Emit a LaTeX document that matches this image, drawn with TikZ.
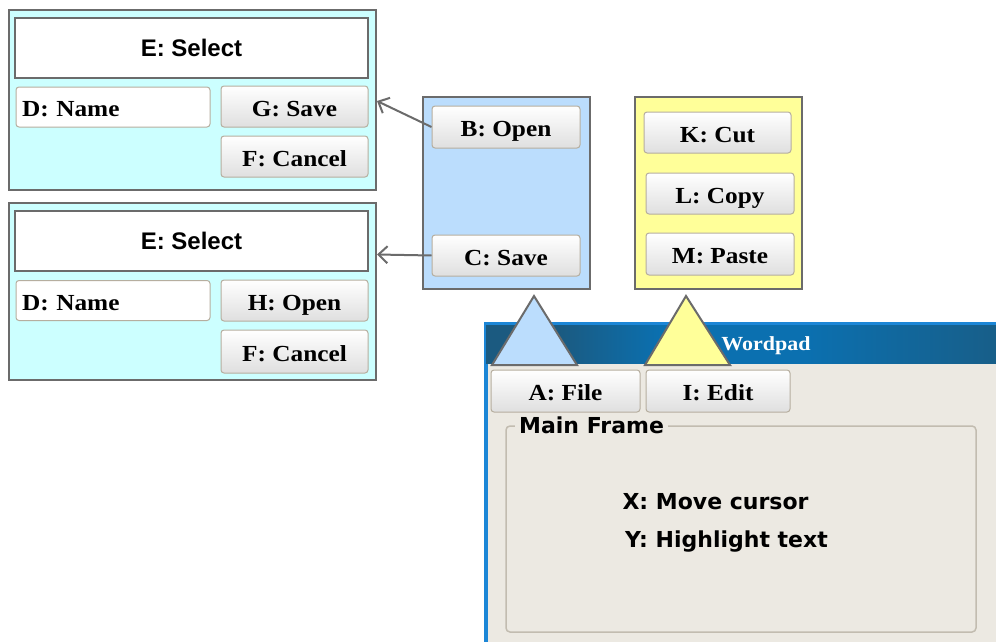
\documentclass[tikz,border=0pt]{standalone}
\usepackage{fontspec}
\setmainfont{Liberation Serif}
\newfontfamily\serifwide[FakeStretch=1.1]{Liberation Serif}
\newfontfamily\arialfont{Liberation Sans}
\newfontfamily\dejavufont{DejaVu Sans}
\usetikzlibrary{arrows.meta}

\definecolor{framegray}{HTML}{6B6B6B}
\definecolor{btnedge}{HTML}{B6AE9F}
\definecolor{btnlow}{HTML}{DFDFDF}
\definecolor{dlgcyan}{HTML}{CCFFFF}
\definecolor{menublue}{HTML}{BBDDFD}
\definecolor{menuyellow}{HTML}{FFFF99}
\definecolor{winbody}{HTML}{ECE9E2}
\definecolor{titledark}{HTML}{1B5A80}
\definecolor{titlemid}{HTML}{0B70B0}
\definecolor{titleright}{HTML}{185E88}
\definecolor{winedge}{HTML}{1C86D6}
\definecolor{groupedge}{HTML}{C2BCB0}

% title bar: dark at the ends, brighter towards the middle
% (the path is fitted to the 25bp--75bp band of the shading)
\pgfdeclarehorizontalshading{titlebar}{100bp}{%
  color(0bp)=(titledark); color(32bp)=(titledark); color(42bp)=(titlemid);
  color(56bp)=(titlemid); color(75bp)=(titleright); color(100bp)=(titleright)}

\tikzset{
  panel/.style={draw=framegray, line width=2pt, inner sep=0pt},
  dialog/.style={panel, fill=dlgcyan, minimum width=367pt},
  menu/.style={panel, minimum width=167pt, minimum height=192pt},
  selectbox/.style={panel, fill=white, minimum width=353pt, minimum height=60pt,
    font=\arialfont\bfseries\fontsize{24}{28}\selectfont},
  serifbold/.style={font=\serifwide\bfseries\fontsize{23}{27}\selectfont,
    text height=19pt, text depth=0pt},
  button/.style={serifbold, draw=btnedge, line width=1pt, rounded corners=3pt,
    top color=white, bottom color=btnlow, inner sep=0pt,
    minimum width=147pt, minimum height=41pt},
  field/.style={serifbold, draw=btnedge, line width=1pt, rounded corners=3pt,
    fill=white, inner xsep=6pt, inner ysep=0pt, text width=182pt, align=left,
    minimum height=40pt},
  link/.style={draw=framegray, line width=2pt,
    -{Straight Barb[length=9pt,width=17pt,line width=2pt]}},
  pointer/.style={draw=framegray, line width=2pt},
  frametext/.style={font=\dejavufont\bfseries\fontsize{22}{26}\selectfont},
}

\begin{document}
\begin{tikzpicture}[x=1pt,y=-1pt]
\useasboundingbox (0,0) rectangle (996,642);
\fill[white] (0,0) rectangle (996,642);

% Wordpad main window, running off the right and bottom edges
\begin{scope}
  \clip (0,0) rectangle (996,642);
  \fill[winedge] (484,322) rectangle (1000,650);
  \fill[winbody] (488,363) rectangle (1000,650);
  \shade[shading=titlebar] (486,325) rectangle (1000,363);
\end{scope}
\node[font=\serifwide\bfseries\fontsize{20}{24}\selectfont, text=white,
  anchor=base] (wptitle) at (766,350) {Wordpad};

% menu pointers into the menu bar
\filldraw[pointer, fill=menublue] (534,296) -- (577,365) -- (492,365) -- cycle;
\filldraw[pointer, fill=menuyellow] (686,296) -- (730,365) -- (645,365) -- cycle;

% menu bar buttons
\node[button, minimum width=149pt, minimum height=42pt] (file) at (565.5,391) {A: File};
\node[button, minimum width=144pt, minimum height=42pt] (edit) at (718,391) {I: Edit};

% main frame group box
\draw[groupedge, line width=1.5pt, rounded corners=4pt] (506,426) rectangle (976,632);
\node[frametext, fill=winbody, anchor=base west, inner xsep=4pt] (mainframe)
  at (515,433) {Main Frame};
\node[frametext, anchor=base] (movecur) at (715.5,509) {X: Move cursor};
\node[frametext, anchor=base] (hilite) at (726.5,547) {Y: Highlight text};

% save dialog
\node[dialog, minimum height=180pt] (dlg1) at (192.5,100) {};
\node[selectbox] (sel1) at (191.5,48) {E: Select};
\node[field] (name1) at (113,107) {D: Name};
\node[button] (save1) at (294.5,106.5) {G: Save};
\node[button] (cancel1) at (294.5,156.5) {F: Cancel};

% open dialog
\node[dialog, minimum height=177pt] (dlg2) at (192.5,291.5) {};
\node[selectbox] (sel2) at (191.5,241) {E: Select};
\node[field] (name2) at (113,300.5) {D: Name};
\node[button] (open2) at (294.5,300.5) {H: Open};
\node[button, minimum height=43pt] (cancel2) at (294.5,351.5) {F: Cancel};

% file menu
\node[menu, fill=menublue] (filemenu) at (506.5,193) {};
\node[button, minimum width=148pt, minimum height=42pt] (bopen) at (506,127) {B: Open};
\node[button, minimum width=148pt] (csave) at (506,255.5) {C: Save};

% edit menu
\node[menu, fill=menuyellow] (editmenu) at (718.5,193) {};
\node[button] (cut) at (717.5,132.5) {K: Cut};
\node[button, minimum width=148pt] (copy) at (720,193.5) {L: Copy};
\node[button, minimum width=148pt, minimum height=42pt] (paste) at (720,254) {M: Paste};

% menu items opening dialogs
\draw[link] (bopen.west) -- ([yshift=-1pt]dlg1.east);
\draw[link] (csave.west) -- ([yshift=1pt]csave.west -| dlg2.east);
\end{tikzpicture}
\end{document}
